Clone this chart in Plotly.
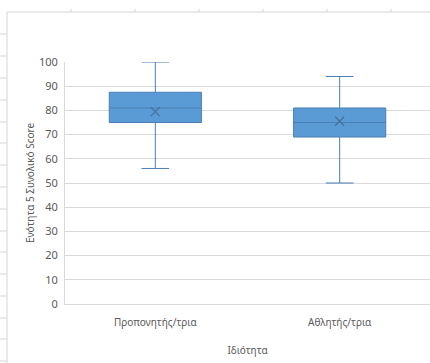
import plotly.graph_objects as go

# Box statistics per group
groups = ["Προπονητής/τρια", "Αθλητής/τρια"]
lower_whisker = [56, 50]
q1 = [75, 69]
median = [81, 75]
q3 = [87.5, 81]
upper_whisker = [100, 94]
means = [79.5, 75.5]

y_ticks = [0, 10, 20, 30, 40, 50, 60, 70, 80, 90, 100]

W, H = 430, 363
L, R, T, B = 65, 0, 62, 59
PW, PH = W - L - R, H - T - B

FONT = "Noto Sans"
TXT = "#595959"
GRID = "#d9d9d9"
SHEET = "#d6d6d6"

fig = go.Figure()

fig.add_trace(go.Box(
    x=groups,
    q1=q1, median=median, q3=q3,
    lowerfence=lower_whisker, upperfence=upper_whisker,
    fillcolor="#5b9bd5",
    line=dict(color="#4a7fb5", width=1),
    width=0.5,
    whiskerwidth=0.3,
    boxpoints=False,
    hoverinfo="skip",
    showlegend=False,
))

fig.add_trace(go.Scatter(
    x=groups, y=means, mode="markers",
    marker=dict(symbol="x-thin", size=9, line=dict(color="#41719c", width=1.2)),
    hoverinfo="skip", showlegend=False,
))


def px_x(p):
    return (p - L) / PW


def px_y(p):
    return (H - B - p) / PH


# Worksheet gridlines around the chart object
shapes = []
shapes.append(dict(type="line", xref="paper", yref="paper",
                   x0=px_x(7), x1=px_x(W), y0=px_y(12), y1=px_y(12),
                   line=dict(color=SHEET, width=1)))
shapes.append(dict(type="line", xref="paper", yref="paper",
                   x0=px_x(7), x1=px_x(7), y0=px_y(12), y1=px_y(H),
                   line=dict(color=SHEET, width=1)))
for cx in [71, 135, 199, 263, 327, 391]:
    shapes.append(dict(type="line", xref="paper", yref="paper",
                       x0=px_x(cx), x1=px_x(cx), y0=px_y(9), y1=px_y(12),
                       line=dict(color=SHEET, width=1)))
for ry in [34, 56, 78, 100, 122, 143, 165, 187, 209, 231, 252, 274, 296, 318, 339, 361]:
    shapes.append(dict(type="line", xref="paper", yref="paper",
                       x0=px_x(0), x1=px_x(7), y0=px_y(ry), y1=px_y(ry),
                       line=dict(color=SHEET, width=1)))

fig.update_layout(
    width=W, height=H,
    margin=dict(l=L, r=R, t=T, b=B, pad=0),
    paper_bgcolor="white", plot_bgcolor="white",
    font=dict(family=FONT, size=11, color=TXT),
    shapes=shapes,
)

fig.update_xaxes(
    type="category",
    range=[-0.49, 1.49],
    showgrid=False,
    showline=True, linecolor=GRID, linewidth=1,
    ticks="outside", ticklen=9, tickcolor="rgba(0,0,0,0)",
    tickfont=dict(size=10, color=TXT),
    title=dict(text="Ιδιότητα", font=dict(size=10, color=TXT), standoff=18),
    zeroline=False,
)

fig.update_yaxes(
    range=[0, 100],
    tickvals=y_ticks,
    showgrid=True, gridcolor=GRID, gridwidth=1,
    showline=True, linecolor=GRID, linewidth=1,
    ticks="outside", ticklen=4, tickcolor="rgba(0,0,0,0)",
    tickfont=dict(size=11, color=TXT),
    title=dict(text="Ενότητα 5 Συνολικό Score", font=dict(size=10, color=TXT), standoff=2),
    zeroline=False,
)

fig.write_html("out.html")
